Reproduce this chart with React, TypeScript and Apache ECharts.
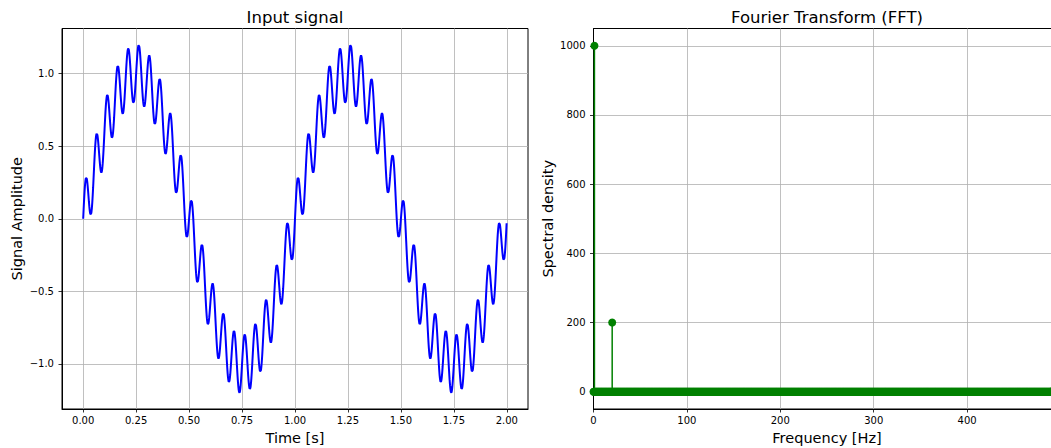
import React, { useEffect, useRef } from "react";
import * as echarts from "echarts";

// Signal components (and confirmed by the FFT panel)
const signalFreqsHz = [1, 20];
const signalAmps = [1, 0.2];
const sampleRateHz = 1000;
const durationS = 2;

// Spectrum peaks
const peakFreqsHz = [1, 20];
const peakDensities = [1000, 200];
const binWidthHz = 0.5;
const nyquistHz = 500;

// Tick labels
const timeTicks = [0, 0.25, 0.5, 0.75, 1, 1.25, 1.5, 1.75, 2];
const ampTicks = [-1, -0.5, 0, 0.5, 1];
const freqTicks = [0, 100, 200, 300, 400];
const densityTicks = [0, 200, 400, 600, 800, 1000];

const FONT = "DejaVu Sans";

function buildSignal(): number[][] {
  const out: number[][] = [];
  const n = sampleRateHz * durationS;
  for (let i = 0; i < n; i++) {
    const t = i / sampleRateHz;
    let v = 0;
    for (let k = 0; k < signalFreqsHz.length; k++) {
      v += signalAmps[k] * Math.sin(2 * Math.PI * signalFreqsHz[k] * t);
    }
    out.push([t, v]);
  }
  return out;
}

function buildSpectrum(): number[][] {
  const out: number[][] = [];
  const n = nyquistHz / binWidthHz;
  for (let i = 0; i < n; i++) {
    const f = i * binWidthHz;
    const k = peakFreqsHz.indexOf(f);
    out.push([f, k >= 0 ? peakDensities[k] : 0]);
  }
  return out;
}

function axis(gridIndex: number, min: number, max: number, ticks: number[], fmt: (v: number) => string, name: string, nameGap: number, isY: boolean) {
  return {
    type: "value",
    gridIndex,
    min,
    max,
    name,
    nameLocation: "middle",
    nameGap,
    nameRotate: isY ? 90 : 0,
    nameTextStyle: { color: "#000", fontSize: 14.5, fontFamily: FONT },
    axisLine: { show: true, onZero: false, lineStyle: { color: "#000", width: 1 } },
    axisTick: {
      show: true,
      inside: false,
      length: 3.5,
      customValues: ticks,
      lineStyle: { color: "#000", width: 0.8 },
    },
    axisLabel: {
      show: true,
      customValues: ticks,
      color: "#000",
      fontSize: 10,
      fontFamily: FONT,
      margin: isY ? 8 : 6,
      formatter: (v: number) => fmt(v),
      hideOverlap: false,
    },
    splitLine: { show: true, lineStyle: { color: "#b0b0b0", width: 0.8 } },
  };
}

const fmtMinus = (s: string) => s.replace("-", "\u2212");

export default function App() {
  const ref = useRef<HTMLDivElement>(null);

  useEffect(() => {
    document.body.style.margin = "0";
    if (!ref.current) return;
    const chart = echarts.init(ref.current, null, { renderer: "svg" });
    const signal = buildSignal();
    const spectrum = buildSpectrum();

    const option: any = {
      animation: false,
      backgroundColor: "#fff",
      title: [
        {
          text: "Input signal",
          left: 295,
          textAlign: "center",
          top: 9,
          padding: 0,
          textStyle: { color: "#000", fontSize: 16.5, fontWeight: "normal", fontFamily: FONT },
        },
        {
          text: "Fourier Transform (FFT)",
          left: 827,
          textAlign: "center",
          top: 9,
          padding: 0,
          textStyle: { color: "#000", fontSize: 16.5, fontWeight: "normal", fontFamily: FONT },
        },
      ],
      grid: [
        { left: 62, top: 28.5, width: 466, height: 380.5, show: true, borderColor: "#000", borderWidth: 1, containLabel: false, outerBoundsMode: "none" },
        { left: 593.5, top: 28.5, width: 467, height: 380.5, show: true, borderColor: "#000", borderWidth: 1, containLabel: false, outerBoundsMode: "none" },
      ],
      xAxis: [
        axis(0, -0.1, 2.1, timeTicks, (v) => v.toFixed(2), "Time [s]", 21, false),
        axis(1, 0, 500, freqTicks, (v) => String(Math.round(v)), "Frequency [Hz]", 21, false),
      ],
      yAxis: [
        axis(0, -1.31, 1.31, ampTicks, (v) => fmtMinus(v.toFixed(1)), "Signal Amplitude", 38, true),
        axis(1, -50, 1050, densityTicks, (v) => String(Math.round(v)), "Spectral density", 38, true),
      ],
      series: [
        {
          type: "line",
          xAxisIndex: 0,
          yAxisIndex: 0,
          data: signal,
          showSymbol: false,
          symbol: "none",
          lineStyle: { color: "#0000ff", width: 2 },
          itemStyle: { color: "#0000ff" },
          clip: true,
          z: 3,
        },
        {
          type: "custom",
          xAxisIndex: 1,
          yAxisIndex: 1,
          data: spectrum,
          clip: true,
          renderItem: (params: any, api: any) => {
            const f = api.value(0);
            const v = api.value(1);
            if (v === 0) return null;
            const p0 = api.coord([f, 0]);
            const p1 = api.coord([f, v]);
            return {
              type: "line",
              shape: { x1: p0[0], y1: p0[1], x2: p1[0], y2: p1[1] },
              style: { stroke: "#008000", lineWidth: 1.5 },
            };
          },
          z: 3,
        },
        {
          type: "scatter",
          xAxisIndex: 1,
          yAxisIndex: 1,
          data: spectrum,
          symbol: "circle",
          symbolSize: 8,
          large: false,
          itemStyle: { color: "#008000", opacity: 1 },
          clip: true,
          z: 4,
        },
      ],
    };
    chart.setOption(option);
    return () => chart.dispose();
  }, []);

  return <div ref={ref} style={{ width: 1051, height: 448 }} />;
}
